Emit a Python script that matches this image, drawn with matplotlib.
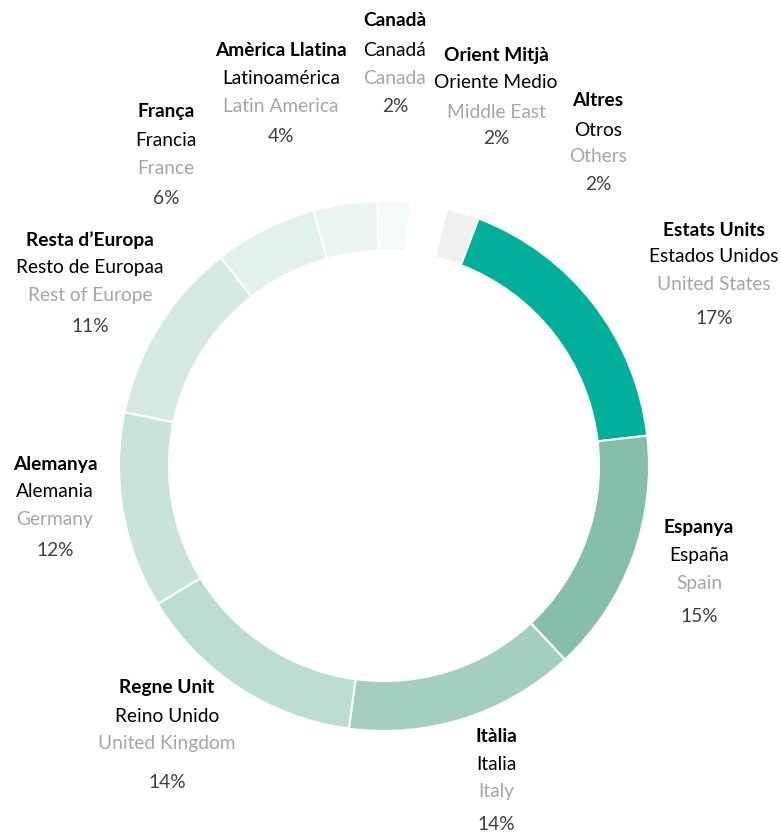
import matplotlib
matplotlib.use("Agg")
import matplotlib.pyplot as plt

# ---- data (clockwise, starting with Estats Units) ----
cat_ca = ["Estats Units", "Espanya", "Itàlia", "Regne Unit", "Alemanya",
          "Resta d\u2019Europa", "França", "Amèrica Llatina", "Canadà",
          "Orient Mitjà", "Altres"]
cat_es = ["Estados Unidos", "España", "Italia", "Reino Unido", "Alemania",
          "Resto de Europaa", "Francia", "Latinoamérica", "Canadá",
          "Oriente Medio", "Otros"]
cat_en = ["United States", "Spain", "Italy", "United Kingdom", "Germany",
          "Rest of Europe", "France", "Latin America", "Canada",
          "Middle East", "Others"]
shares = [17.4, 14.9, 14.1, 14.2, 12.0, 11.2, 6.3, 3.9, 2.0, 2.2, 2.0]
pct_labels = ["17%", "15%", "14%", "14%", "12%", "11%", "6%", "4%", "2%", "2%", "2%"]

# ---- styles / layout ----
colors = ["#00B09B", "#85BEAB", "#A3CFC1", "#BCDDD3", "#C7E3DA", "#D4EAE3",
          "#E1F1EC", "#EAF5F2", "#F4FAF8", "#FFFFFF", "#F0F0F0"]
W, H = 781, 832
CX, CY, R = 384, 466, 265          # pixel centre & outer radius
RING = 50 / 265
# label anchor (x centre, y of each line) in pixels from top-left
label_pos = [
    (714, [230, 257, 285, 319]),
    (699, [528, 556, 584, 617]),
    (496, [736, 764, 792, 824]),
    (167, [688, 716, 744, 783]),
    (55,  [464, 491, 519, 551]),
    (90,  [240, 267, 295, 326]),
    (166, [111, 140, 168, 198]),
    (281, [50, 79, 107, 136]),
    (395, [20, 50, 78, 106]),
    (496, [55, 83, 112, 138]),
    (598, [101, 130, 157, 184]),
]

plt.rcParams["font.family"] = ["Lato", "DejaVu Sans"]
fig = plt.figure(figsize=(W / 100, H / 100), dpi=100)
ax = fig.add_axes([0, 0, 1, 1])
ax.axis("off")

start = 90 - 20.9
ax.pie(shares, colors=colors, startangle=start, counterclock=False, radius=1.0,
       wedgeprops=dict(width=RING, edgecolor="white", linewidth=1.5))
ax.set_xlim(-CX / R, (W - CX) / R)
ax.set_ylim(-(H - CY) / R, CY / R)
ax.set_aspect("equal")

def px(x, y):
    return (x - CX) / R, (CY - y) / R

fs = 13.8
for i in range(len(shares)):
    x, ys = label_pos[i]
    texts = [(cat_ca[i], "#000000", "bold"), (cat_es[i], "#000000", "normal"),
             (cat_en[i], "#A6A6A6", "normal"), (pct_labels[i], "#404040", "normal")]
    for (t, c, w), y in zip(texts, ys):
        ax.text(*px(x, y), t, ha="center", va="center", fontsize=fs,
                color=c, fontweight=w)

fig.savefig("out.png", dpi=100)
